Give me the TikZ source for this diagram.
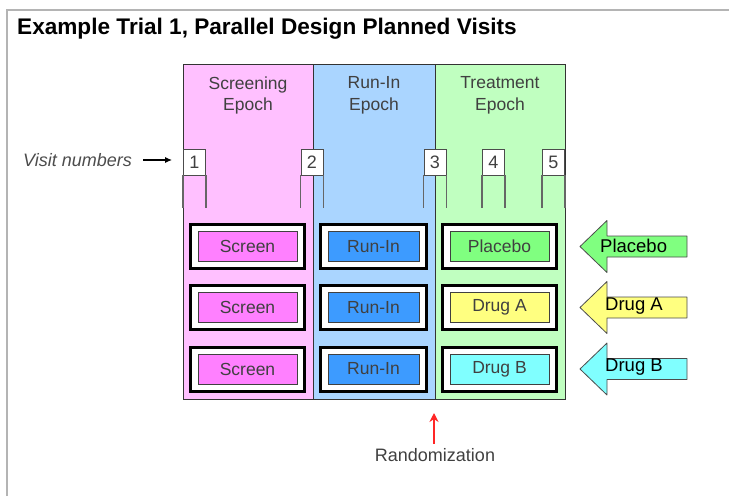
\documentclass[tikz,border=0pt]{standalone}
\usepackage{fontspec}
\setmainfont{Liberation Sans}
\usetikzlibrary{arrows.meta}

\definecolor{framegray}{HTML}{B4B4B4}
\definecolor{textgray}{HTML}{404040}
\definecolor{scrback}{HTML}{FFC0FF}
\definecolor{runback}{HTML}{AAD5FF}
\definecolor{trtback}{HTML}{C0FFC0}
\definecolor{scrfill}{HTML}{FF80FF}
\definecolor{runfill}{HTML}{3D9BFF}
\definecolor{plafill}{HTML}{80FF80}
\definecolor{drafill}{HTML}{FFFF80}
\definecolor{drbfill}{HTML}{80FFFF}

\tikzset{
  epochlabel/.style={align=center, text=textgray, font=\fontsize{17.5}{21.5}\selectfont, anchor=north},
  visitbox/.style={draw=black!70, fill=white, line width=0.8pt, minimum width=22, minimum height=26,
    inner sep=0pt, font=\fontsize{18}{18}\selectfont, text=black!75},
  visitleg/.style={draw=black!60, line width=1.4pt},
  cellbox/.style={draw=black, fill=white, line width=3pt, minimum width=114, minimum height=44},
  elembox/.style={draw=black!75, line width=1pt, minimum width=99, minimum height=30, inner sep=0pt,
    font=\fontsize{17.5}{18}\selectfont, text=textgray},
  armlabel/.style={anchor=west, inner sep=0pt, font=\fontsize{18.5}{18}\selectfont, text=black},
  armarrow/.style={draw=black!70, line width=0.8pt, line join=round}
}

\begin{document}
\begin{tikzpicture}[x=1pt,y=-1pt]
  \useasboundingbox (0,0) rectangle (729,496);
  % frame and title
  \draw[framegray, line width=2pt] (7,496) -- (7,9.5) -- (729,9.5);
  \node[anchor=base west, inner sep=0pt, font=\bfseries\fontsize{22.6}{24}\selectfont] (title) at (17,34)
    {Example Trial 1, Parallel Design Planned Visits};

  % epochs
  \coordinate (E0) at (183,64);
  \coordinate (E1) at (313,399);
  \coordinate (E2) at (435,64);
  \coordinate (E3) at (565,399);
  \fill[scrback] (E0) rectangle (313,399);
  \fill[runback] (313,64) rectangle (435,399);
  \fill[trtback] (E2) rectangle (E3);
  \draw[black!80, line width=0.9pt] (E0) rectangle (E3);
  \draw[black!80, line width=0.9pt] (313,64) -- (E1);
  \draw[black!80, line width=0.9pt] (E2) -- (435,399);

  \node[epochlabel] (scrlab) at (248,73) {Screening\\Epoch};
  \node[epochlabel] (runlab) at (374,73) {Run-In\\Epoch};
  \node[epochlabel] (trtlab) at (500,73) {Treatment\\Epoch};

  % visits
  \node[visitbox] (v1) at (194.5,162) {1};
  \node[visitbox] (v2) at (312,162) {2};
  \node[visitbox] (v3) at (435,162) {3};
  \node[visitbox] (v4) at (493.5,162) {4};
  \node[visitbox] (v5) at (553.5,162) {5};

  \draw[visitleg] (v1.south west) -- ++(0,33);
  \draw[visitleg] (v1.south east) -- ++(0,33);
  \draw[visitleg] (v2.south west) -- ++(0,33);
  \draw[visitleg] (v2.south east) -- ++(0,33);
  \draw[visitleg] (v3.south west) -- ++(0,33);
  \draw[visitleg] (v3.south east) -- ++(0,33);
  \draw[visitleg] (v4.south west) -- ++(0,33);
  \draw[visitleg] (v4.south east) -- ++(0,33);
  \draw[visitleg] (v5.south west) -- ++(0,33);
  \draw[visitleg] (v5.south east) -- ++(0,33);

  \node[anchor=east, inner sep=0pt, text=black!70, font=\itshape\fontsize{18}{18}\selectfont] (vislab) at (132,160)
    {Visit numbers};
  \draw[-{Latex[length=7pt,width=6pt]}, line width=1.2pt, shorten <=11pt, shorten >=11pt]
    (vislab.east) -- (vislab.east -| v1.west);

  % epoch elements
  \node[cellbox] (c11) at (247.5,246.5) {};
  \node[cellbox] (c12) at (247.5,307.5) {};
  \node[cellbox] (c13) at (247.5,369) {};
  \node[cellbox, minimum width=106] (c21) at (373.5,246.5) {};
  \node[cellbox, minimum width=106] (c22) at (373.5,307.5) {};
  \node[cellbox, minimum width=106] (c23) at (373.5,369) {};
  \node[cellbox] (c31) at (499.5,246.5) {};
  \node[cellbox] (c32) at (499.5,307.5) {};
  \node[cellbox] (c33) at (499.5,369) {};

  \node[elembox, fill=scrfill] (e11) at (c11) {Screen};
  \node[elembox, fill=scrfill] (e12) at (c12) {Screen};
  \node[elembox, fill=scrfill] (e13) at (c13) {Screen};
  \node[elembox, fill=runfill, minimum width=91] (e21) at (c21) {Run-In};
  \node[elembox, fill=runfill, minimum width=91] (e22) at (c22) {Run-In};
  \node[elembox, fill=runfill, minimum width=91] (e23) at (c23) {Run-In};
  \node[elembox, fill=plafill] (e31) at (c31) {Placebo};
  \node[elembox, fill=drafill] (e32) at (c32) {Drug A};
  \node[elembox, fill=drbfill] (e33) at (c33) {Drug B};

  % arms
  \filldraw[armarrow, fill=plafill] (580,246.5) -- (607,220.5) -- (607,236) -- (687,236)
    -- (687,257) -- (607,257) -- (607,272.5) -- cycle;
  \filldraw[armarrow, fill=drafill] (580,307.5) -- (607,281.5) -- (607,297) -- (687,297)
    -- (687,318) -- (607,318) -- (607,333.5) -- cycle;
  \filldraw[armarrow, fill=drbfill] (580,369) -- (607,343) -- (607,358.5) -- (687,358.5)
    -- (687,379.5) -- (607,379.5) -- (607,395) -- cycle;
  \node[armlabel] (a1) at (600,245.5) {Placebo};
  \node[armlabel] (a2) at (605,306.5) {Drug A};
  \node[armlabel] (a3) at (605,367.5) {Drug B};

  % randomization
  \coordinate (rtip) at (434,413);
  \node[text=textgray, font=\fontsize{18}{18}\selectfont] (rand) at (435,455) {Randomization};
  \draw[-{Stealth[length=9pt,width=9pt]}, red!85!white, line width=1.3pt] ([yshift=1pt]rand.north -| rtip) -- (rtip);
\end{tikzpicture}
\end{document}
